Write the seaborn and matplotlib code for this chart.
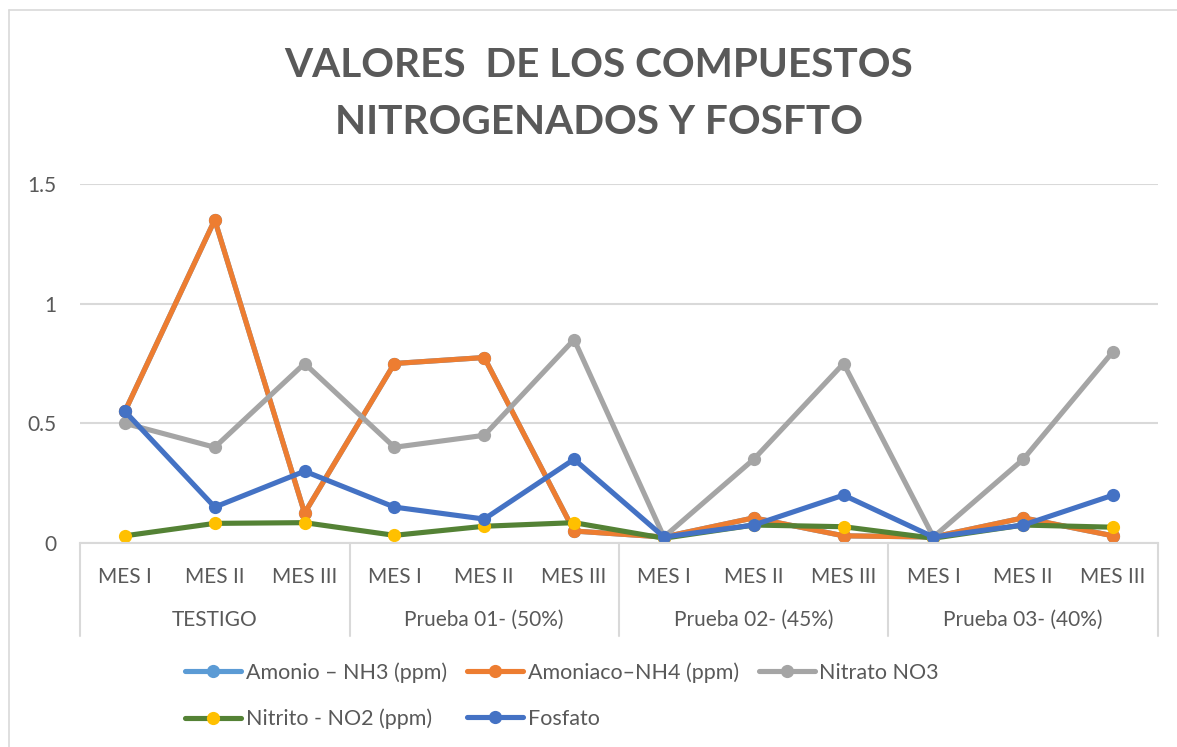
import numpy as np
import pandas as pd
import matplotlib
matplotlib.use("Agg")
import matplotlib.pyplot as plt
import matplotlib.transforms as mtransforms
from matplotlib.lines import Line2D
import seaborn as sns

# Datos
grupos = ["TESTIGO", "Prueba 01- (50%)", "Prueba 02- (45%)", "Prueba 03- (40%)"]
meses = ["MES I", "MES II", "MES III"]

amonio_nh3 = [0.55, 1.35, 0.125, 0.75, 0.775, 0.05, 0.025, 0.105, 0.03, 0.025, 0.105, 0.03]
amoniaco_nh4 = [0.55, 1.35, 0.125, 0.75, 0.775, 0.05, 0.025, 0.105, 0.03, 0.025, 0.105, 0.03]
nitrato_no3 = [0.5, 0.4, 0.75, 0.4, 0.45, 0.85, 0.025, 0.35, 0.75, 0.025, 0.35, 0.8]
nitrito_no2 = [0.03, 0.082, 0.085, 0.032, 0.07, 0.085, 0.02, 0.075, 0.068, 0.02, 0.075, 0.066]
fosfato = [0.55, 0.15, 0.3, 0.15, 0.1, 0.35, 0.025, 0.075, 0.2, 0.025, 0.075, 0.2]

series = [
    ("Amonio – NH3 (ppm)", amonio_nh3, "#5B9BD5", "#5B9BD5"),
    ("Amoniaco–NH4 (ppm)", amoniaco_nh4, "#ED7D31", "#ED7D31"),
    ("Nitrato NO3", nitrato_no3, "#A5A5A5", "#A5A5A5"),
    ("Nitrito - NO2 (ppm)", nitrito_no2, "#548235", "#FFC000"),
    ("Fosfato", fosfato, "#4472C4", "#4472C4"),
]

sns.set_theme(style="white")
plt.rcParams["font.family"] = ["Lato", "DejaVu Sans"]
gris_texto = "#595959"
gris_linea = "#D9D9D9"

fig = plt.figure(figsize=(11.77, 7.47), dpi=100)
ax = fig.add_axes([80 / 1177, 1 - 543 / 747, (1158 - 80) / 1177, (543 - 184) / 747])

x = np.arange(len(grupos) * len(meses))
handles = {}
for nombre, valores, c_linea, c_marca in series:
    df = pd.DataFrame({"x": x, "valor": valores})
    sns.lineplot(data=df, x="x", y="valor", ax=ax, color=c_linea, linewidth=3.7,
                 marker="o", markersize=9.5, markerfacecolor=c_marca,
                 markeredgecolor=c_marca, markeredgewidth=0, legend=False)
    handles[nombre] = Line2D([], [], color=c_linea, linewidth=3.7, marker="o",
                             markersize=9.5, markerfacecolor=c_marca,
                             markeredgecolor=c_marca, markeredgewidth=0)

ax.set_xlim(-0.5, len(x) - 0.5)
ax.set_ylim(0, 1.5)
ax.set_yticks([0, 0.5, 1, 1.5])
ax.set_yticklabels(["0", "0.5", "1", "1.5"])
ax.yaxis.grid(True, color=gris_linea, linewidth=1.5)
ax.xaxis.grid(False)
for lado in ["top", "right", "left"]:
    ax.spines[lado].set_visible(False)
ax.spines["bottom"].set_color(gris_linea)
ax.spines["bottom"].set_linewidth(1.5)
ax.set_xticks(x)
ax.set_xticklabels(meses * len(grupos))
ax.tick_params(axis="x", length=0, pad=17, labelsize=15, labelcolor=gris_texto)
ax.tick_params(axis="y", length=0, pad=17, labelsize=15, labelcolor=gris_texto)
ax.set_xlabel("")
ax.set_ylabel("")

# Eje de categorías de dos niveles
trans = mtransforms.blended_transform_factory(ax.transData, ax.transAxes)
for b in np.arange(len(grupos) + 1) * len(meses) - 0.5:
    ax.add_line(Line2D([b, b], [0, -0.26], transform=trans, color=gris_linea,
                       linewidth=1.5, clip_on=False))
for i, g in enumerate(grupos):
    ax.text(i * len(meses) + 1, -0.214, g, transform=trans, ha="center", va="center",
            fontsize=15, color=gris_texto)

# Borde del área del gráfico
fig.add_artist(Line2D([9 / 1177, 9 / 1177], [0, 1 - 10 / 747], color=gris_linea, linewidth=1.2))
fig.add_artist(Line2D([9 / 1177, 1], [1 - 10 / 747, 1 - 10 / 747], color=gris_linea, linewidth=1.2))

fig.text(599 / 1177, 1 - 94 / 747, "VALORES  DE LOS COMPUESTOS\nNITROGENADOS Y FOSFTO",
         ha="center", va="center", fontsize=29.2, fontweight="bold", color=gris_texto,
         linespacing=1.65)

orden = ["Amonio – NH3 (ppm)", "Nitrito - NO2 (ppm)", "Amoniaco–NH4 (ppm)", "Fosfato", "Nitrato NO3"]
leg = fig.legend([handles[n] for n in orden], orden, ncol=3, loc="upper left",
                 bbox_to_anchor=(166 / 1177, 1 - 643 / 747), frameon=False,
                 fontsize=15.5, handlelength=2.6, handletextpad=0.2,
                 columnspacing=0.95, labelspacing=1.2)
for t in leg.get_texts():
    t.set_color(gris_texto)

fig.savefig("out.png", dpi=100)
